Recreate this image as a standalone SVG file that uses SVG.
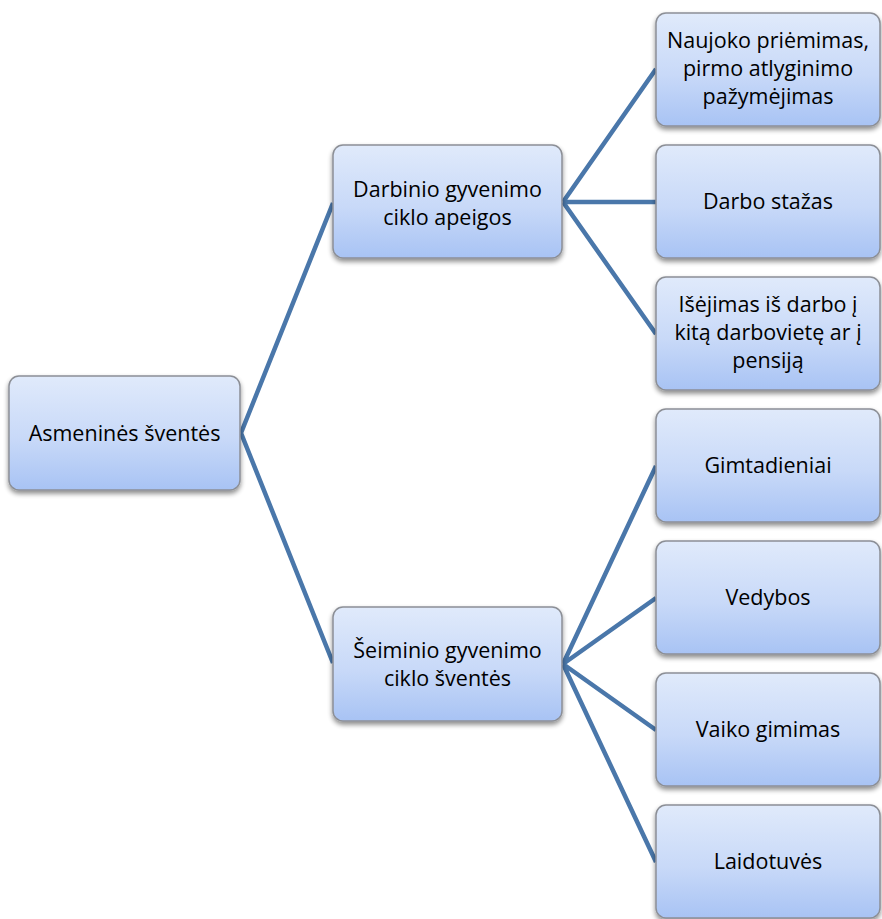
<svg xmlns="http://www.w3.org/2000/svg" width="882" height="919" viewBox="0 0 882 919">
<defs>
<linearGradient id="g" x1="0" y1="0" x2="0" y2="1">
<stop offset="0" stop-color="#e0eafb"/>
<stop offset="0.55" stop-color="#c8d9f8"/>
<stop offset="1" stop-color="#a8c3f4"/>
</linearGradient>
<filter id="sh" x="-10%" y="-10%" width="120%" height="130%">
<feGaussianBlur in="SourceAlpha" stdDeviation="2.5"/>
<feOffset dx="0" dy="3" result="b"/>
<feComponentTransfer><feFuncA type="linear" slope="0.45"/></feComponentTransfer>
<feMerge><feMergeNode/><feMergeNode in="SourceGraphic"/></feMerge>
</filter>
<style>
.box{fill:url(#g);stroke:#8c8f96;stroke-width:1.5;filter:url(#sh)}
.t{font-family:"Open Sans","Noto Sans","DejaVu Sans",sans-serif;font-size:21.5px;fill:#000;text-anchor:middle}
.c{stroke:#4a77aa;stroke-width:4.5;fill:none;stroke-linecap:butt}
</style>
</defs>
<rect width="882" height="919" fill="#fff"/>
<g id="connectors">
<path class="c" d="M241 433 L333 203 M241 433 L333 663"/>
<path class="c" d="M563 202 L656 69 M563 202 L656 202 M563 202 L656 334"/>
<path class="c" d="M563 664 L656 466 M563 664 L656 598 M563 664 L656 730 M563 664 L656 862"/>
</g>
<g id="n-root">
<rect class="box" x="9" y="376" width="231" height="114" rx="10"/>
<text class="t" x="124.5" y="441">Asmeninės šventės</text>
</g>
<g id="n-darbinio">
<rect class="box" x="333" y="145" width="229" height="113" rx="10"/>
<text class="t" x="447.5" y="197">Darbinio gyvenimo</text>
<text class="t" x="447.5" y="225">ciklo apeigos</text>
</g>
<g id="n-seiminio">
<rect class="box" x="333" y="607" width="229" height="114" rx="10"/>
<text class="t" x="447.5" y="658">Šeiminio gyvenimo</text>
<text class="t" x="447.5" y="686">ciklo šventės</text>
</g>
<g id="n-naujoko">
<rect class="box" x="656" y="13" width="224" height="113" rx="10"/>
<text class="t" x="768" y="48">Naujoko priėmimas,</text>
<text class="t" x="768" y="76">pirmo atlyginimo</text>
<text class="t" x="768" y="104">pažymėjimas</text>
</g>
<g id="n-stazas">
<rect class="box" x="656" y="145" width="224" height="113" rx="10"/>
<text class="t" x="768" y="209">Darbo stažas</text>
</g>
<g id="n-isejimas">
<rect class="box" x="656" y="277" width="224" height="113" rx="10"/>
<text class="t" x="768" y="312">Išėjimas iš darbo į</text>
<text class="t" x="768" y="340">kitą darbovietę ar į</text>
<text class="t" x="768" y="368">pensiją</text>
</g>
<g id="n-gimtadieniai">
<rect class="box" x="656" y="409" width="224" height="113" rx="10"/>
<text class="t" x="768" y="473">Gimtadieniai</text>
</g>
<g id="n-vedybos">
<rect class="box" x="656" y="541" width="224" height="113" rx="10"/>
<text class="t" x="768" y="605">Vedybos</text>
</g>
<g id="n-vaiko">
<rect class="box" x="656" y="673" width="224" height="113" rx="10"/>
<text class="t" x="768" y="737">Vaiko gimimas</text>
</g>
<g id="n-laidotuves">
<rect class="box" x="656" y="805" width="224" height="113" rx="10"/>
<text class="t" x="768" y="869">Laidotuvės</text>
</g>
</svg>
